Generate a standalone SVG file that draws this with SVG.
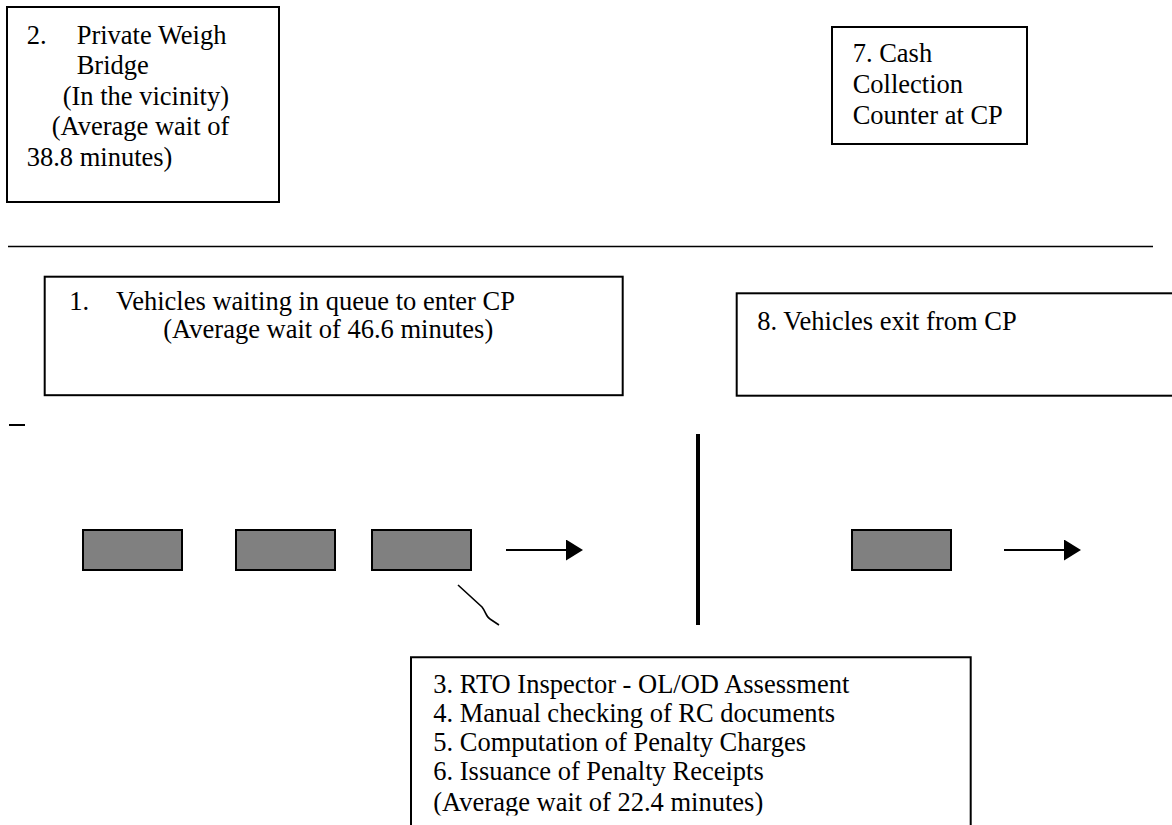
<svg xmlns="http://www.w3.org/2000/svg" width="1172" height="825" viewBox="0 0 1172 825">
  <style>
    .box { fill: #ffffff; stroke: #000000; stroke-width: 2; }
    .veh { fill: #808080; stroke: #000000; stroke-width: 2; }
    .t { font-family: "Liberation Serif", "Times New Roman", serif; font-size: 26.5px; fill: #000000; }
    .ln { stroke: #000000; fill: none; }
  </style>
  <defs>
    <marker id="arrowhead" markerWidth="17" markerHeight="21" refX="0" refY="10.5" orient="auto" markerUnits="userSpaceOnUse">
      <polygon points="0,0 17,10.5 0,21" fill="#000000"/>
    </marker>
    <clipPath id="clip3">
      <rect x="400" y="650" width="600" height="165.5"/>
    </clipPath>
  </defs>
  <rect x="0" y="0" width="1172" height="825" fill="#ffffff"/>

  <g id="node-2-weighbridge">
    <rect class="box" x="7" y="7" width="272" height="195"/>
    <text class="t" x="26.7" y="43.5">2.</text>
    <text class="t" x="76.7" y="43.5">Private Weigh</text>
    <text class="t" x="76.7" y="74">Bridge</text>
    <text class="t" x="62.7" y="104.5">(In the vicinity)</text>
    <text class="t" x="51.7" y="135">(Average wait of</text>
    <text class="t" x="26.7" y="165.5">38.8 minutes)</text>
  </g>

  <g id="node-7-cash">
    <rect class="box" x="832" y="27" width="195" height="117"/>
    <text class="t" x="852.7" y="61.7">7. Cash</text>
    <text class="t" x="852.7" y="93">Collection</text>
    <text class="t" x="852.7" y="124">Counter at CP</text>
  </g>

  <g id="separator">
    <line class="ln" x1="8" y1="246.5" x2="1153" y2="246.5" stroke-width="1.5"/>
    <line class="ln" x1="9" y1="425" x2="25" y2="425" stroke-width="2"/>
  </g>

  <g id="node-1-queue">
    <rect class="box" x="44.7" y="276.7" width="578" height="118.5"/>
    <text class="t" x="69.3" y="309.5">1.</text>
    <text class="t" x="116" y="309.5">Vehicles waiting in queue to enter CP</text>
    <text class="t" x="163.3" y="338">(Average wait of 46.6 minutes)</text>
  </g>

  <g id="node-8-exit">
    <rect class="box" x="736.7" y="293.3" width="450" height="102.4"/>
    <text class="t" x="757.3" y="330">8. Vehicles exit from CP</text>
  </g>

  <g id="vehicle-1"><rect class="veh" x="83" y="530" width="99" height="40"/></g>
  <g id="vehicle-2"><rect class="veh" x="236" y="530" width="99" height="40"/></g>
  <g id="vehicle-3"><rect class="veh" x="372" y="530" width="99" height="40"/></g>
  <g id="vehicle-4"><rect class="veh" x="852" y="530" width="99" height="40"/></g>

  <g id="node-3-6-inspection">
    <path class="box" d="M411,830 L411,657.3 L970.7,657.3 L970.7,830"/>
    <g clip-path="url(#clip3)">
      <text class="t" x="433.3" y="693">3. RTO Inspector - OL/OD Assessment</text>
      <text class="t" x="433.3" y="722">4. Manual checking of RC documents</text>
      <text class="t" x="433.3" y="751">5. Computation of Penalty Charges</text>
      <text class="t" x="433.3" y="780">6. Issuance of Penalty Receipts</text>
      <text class="t" x="433.3" y="811">(Average wait of 22.4 minutes)</text>
    </g>
  </g>

  <g id="connectors">
    <line class="ln" x1="506" y1="550" x2="566" y2="550" stroke-width="2" marker-end="url(#arrowhead)"/>
    <line class="ln" x1="1004" y1="550" x2="1064" y2="550" stroke-width="2" marker-end="url(#arrowhead)"/>
    <path class="ln" d="M458,585 L482,607 C486,612 486,617 490,619 L499,625" stroke-width="1.6"/>
    <line class="ln" x1="698" y1="434" x2="698" y2="625" stroke-width="4"/>
  </g>
</svg>
